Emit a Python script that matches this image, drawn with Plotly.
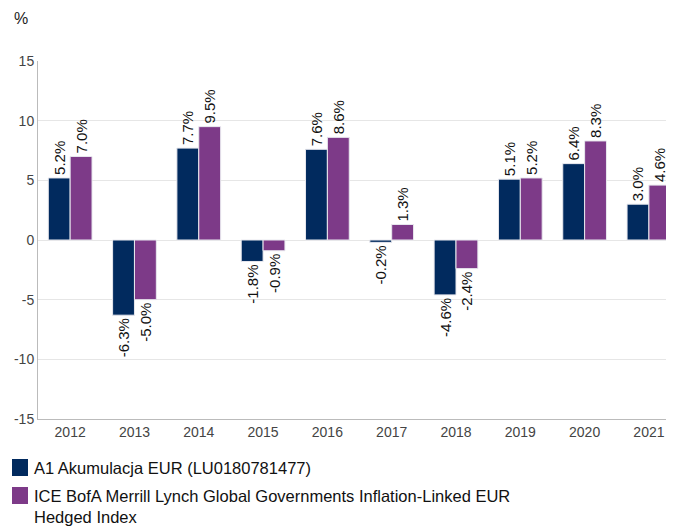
import plotly.graph_objects as go

years = ["2012", "2013", "2014", "2015", "2016", "2017", "2018", "2019", "2020", "2021"]
fund = [5.2, -6.3, 7.7, -1.8, 7.6, -0.2, -4.6, 5.1, 6.4, 3.0]
index = [7.0, -5.0, 9.5, -0.9, 8.6, 1.3, -2.4, 5.2, 8.3, 4.6]
y_ticks = [-15, -10, -5, 0, 5, 10, 15]
y_tick_labels = ["-15", "-10", "-5", "0", "5", "10", "15"]
fund_name = "A1 Akumulacja EUR (LU0180781477)"
index_name = "ICE BofA Merrill Lynch Global Governments Inflation-Linked EUR<br>Hedged Index"
colors = ["#012a5e", "#7d3a88"]

OFF = 8  # page body margin
W, H = 674 - OFF, 529 - OFF
L, T, B = 38 - OFF, 61 - OFF, 110
pw, ph = W - L, H - T - B
# convert page pixel coords to paper coords
px = lambda x: (x - OFF - L) / pw
py = lambda y: (H - B - (y - OFF)) / ph

fig = go.Figure()
for name, vals, col in [(fund_name, fund, colors[0]), (index_name, index, colors[1])]:
    fig.add_trace(go.Bar(
        x=years, y=vals, name=name, showlegend=False,
        marker=dict(color=col, line=dict(color="#e8e8ee", width=1)),
        text=[f"{v:.1f}%" for v in vals],
        textposition="outside", textangle=-90, constraintext="none",
        textfont=dict(family="Liberation Sans, Arial", size=15, color="#111"),
        cliponaxis=False,
    ))

shapes = []
annotations = [dict(text="%", xref="paper", yref="paper", x=px(12), y=py(18),
                    xanchor="left", yanchor="middle", showarrow=False,
                    font=dict(size=16, color="#222"))]
legend_items = [(fund_name, colors[0], 459, 476), (index_name, colors[1], 487, 504)]
for name, col, y0, y1 in legend_items:
    shapes.append(dict(type="rect", xref="paper", yref="paper", x0=px(12), x1=px(28),
                       y0=py(y1), y1=py(y0), fillcolor=col, line=dict(width=0)))
    annotations.append(dict(text=name, xref="paper", yref="paper", x=px(32), y=py(y0 - 2),
                            xanchor="left", yanchor="top", align="left", showarrow=False,
                            font=dict(size=16.5, color="#111")))

fig.update_layout(
    width=W, height=H,
    margin=dict(l=L, r=0, t=T, b=B, autoexpand=False),
    paper_bgcolor="white", plot_bgcolor="white",
    barmode="group", bargap=0.32, bargroupgap=0.0,
    font=dict(family="Liberation Sans, Arial", color="#444"),
    xaxis=dict(range=[-0.5, 9.39], showline=True, linecolor="#bbb", linewidth=1,
               tickfont=dict(size=14, color="#444"), ticks="", showgrid=False,
               automargin=False),
    yaxis=dict(range=[-15, 15], tickvals=y_ticks, ticktext=y_tick_labels,
               showline=True, linecolor="#bbb", linewidth=1,
               gridcolor="#e6e6e6", zeroline=False, tickfont=dict(size=14, color="#444"),
               ticks="", automargin=False),
    shapes=shapes,
    annotations=annotations,
)

fig.write_html("out.html")
